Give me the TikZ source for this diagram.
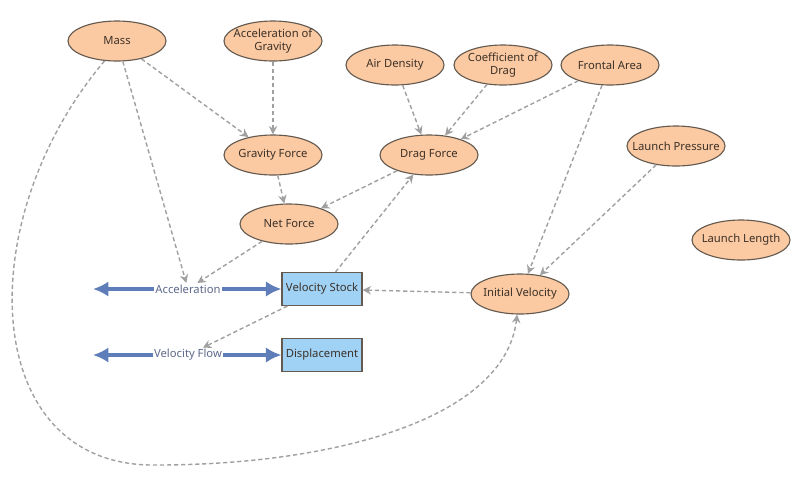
\documentclass[tikz,border=0pt]{standalone}
\usepackage{fontspec}
\setmainfont{Noto Sans}
\usetikzlibrary{shapes.geometric, arrows.meta}
\usepackage{xcolor}
\definecolor{peach}{RGB}{251,201,162}
\definecolor{rim}{RGB}{100,90,80}
\definecolor{ink}{RGB}{60,50,40}
\definecolor{stockblue}{RGB}{160,210,246}
\definecolor{flowblue}{RGB}{95,125,185}
\definecolor{flowink}{RGB}{95,105,140}
\definecolor{linkgray}{RGB}{160,160,160}

\begin{document}
\begin{tikzpicture}[
    x=0.025cm, y=-0.025cm,
    font=\fontsize{8}{9.5}\selectfont,
    aux/.style={ellipse, draw=rim, line width=0.8pt, fill=peach, text=ink,
        minimum width=2.45cm, minimum height=1cm, inner xsep=-7pt, inner ysep=0pt, align=center},
    stock/.style={rectangle, draw=rim, line width=0.8pt, fill=stockblue, text=ink,
        minimum width=2cm, minimum height=0.82cm, inner sep=1pt},
    flowlabel/.style={fill=white, inner sep=1pt, text=flowink},
    flowline/.style={flowblue, line width=2.6pt, {Latex[length=11pt,width=11pt]}-{Latex[length=11pt,width=11pt]}},
    link/.style={color=linkgray, line width=1pt, dash pattern=on 3pt off 2pt,
        -{Stealth[length=6pt,width=6pt]}}
]
    \useasboundingbox (0,0) rectangle (800,476);

    % Variables and stocks at their places:
    \node[aux] (mass) at (117,41) {Mass};
    \node[aux] (accg) at (273,41) {Acceleration of\\Gravity};
    \node[aux] (air) at (395,65) {Air Density};
    \node[aux] (cd) at (503,65) {Coefficient of\\Drag};
    \node[aux] (area) at (610,65) {Frontal Area};
    \node[aux] (gforce) at (273,155) {Gravity Force};
    \node[aux] (dforce) at (429,155) {Drag Force};
    \node[aux] (lpress) at (676,146) {Launch Pressure};
    \node[aux] (net) at (289,224) {Net Force};
    \node[aux] (llen) at (741,240) {Launch Length};
    \node[aux] (iv) at (520,294) {Initial Velocity};
    \node[stock] (vstock) at (322,289) {Velocity Stock};
    \node[stock] (disp) at (322,355) {Displacement};

    \coordinate (accsrc) at (93,289);
    \coordinate (vfsrc) at (93,355);
    \draw[flowline] (accsrc) -- (vstock.west);
    \draw[flowline] (vfsrc) -- (disp.west);
    \node[flowlabel] (acc) at (188,289) {Acceleration};
    \node[flowlabel] (vflow) at (188,355) {Velocity Flow};

    \path[link]
        (mass) edge (gforce)
        (accg) edge (gforce)
        (mass) edge (acc)
        (air) edge (dforce)
        (cd) edge (dforce)
        (area) edge (dforce)
        (area) edge (iv)
        (lpress) edge (iv)
        (gforce) edge (net)
        (dforce) edge (net)
        (net) edge (acc)
        (vstock) edge (dforce)
        (vstock) edge (vflow)
        (iv) edge (vstock);
    \draw[link] (mass.238) .. controls (-30,220) and (-20,462) .. (150,465)
        .. controls (330,466) and (505,420) .. (iv.262);
\end{tikzpicture}
\end{document}
